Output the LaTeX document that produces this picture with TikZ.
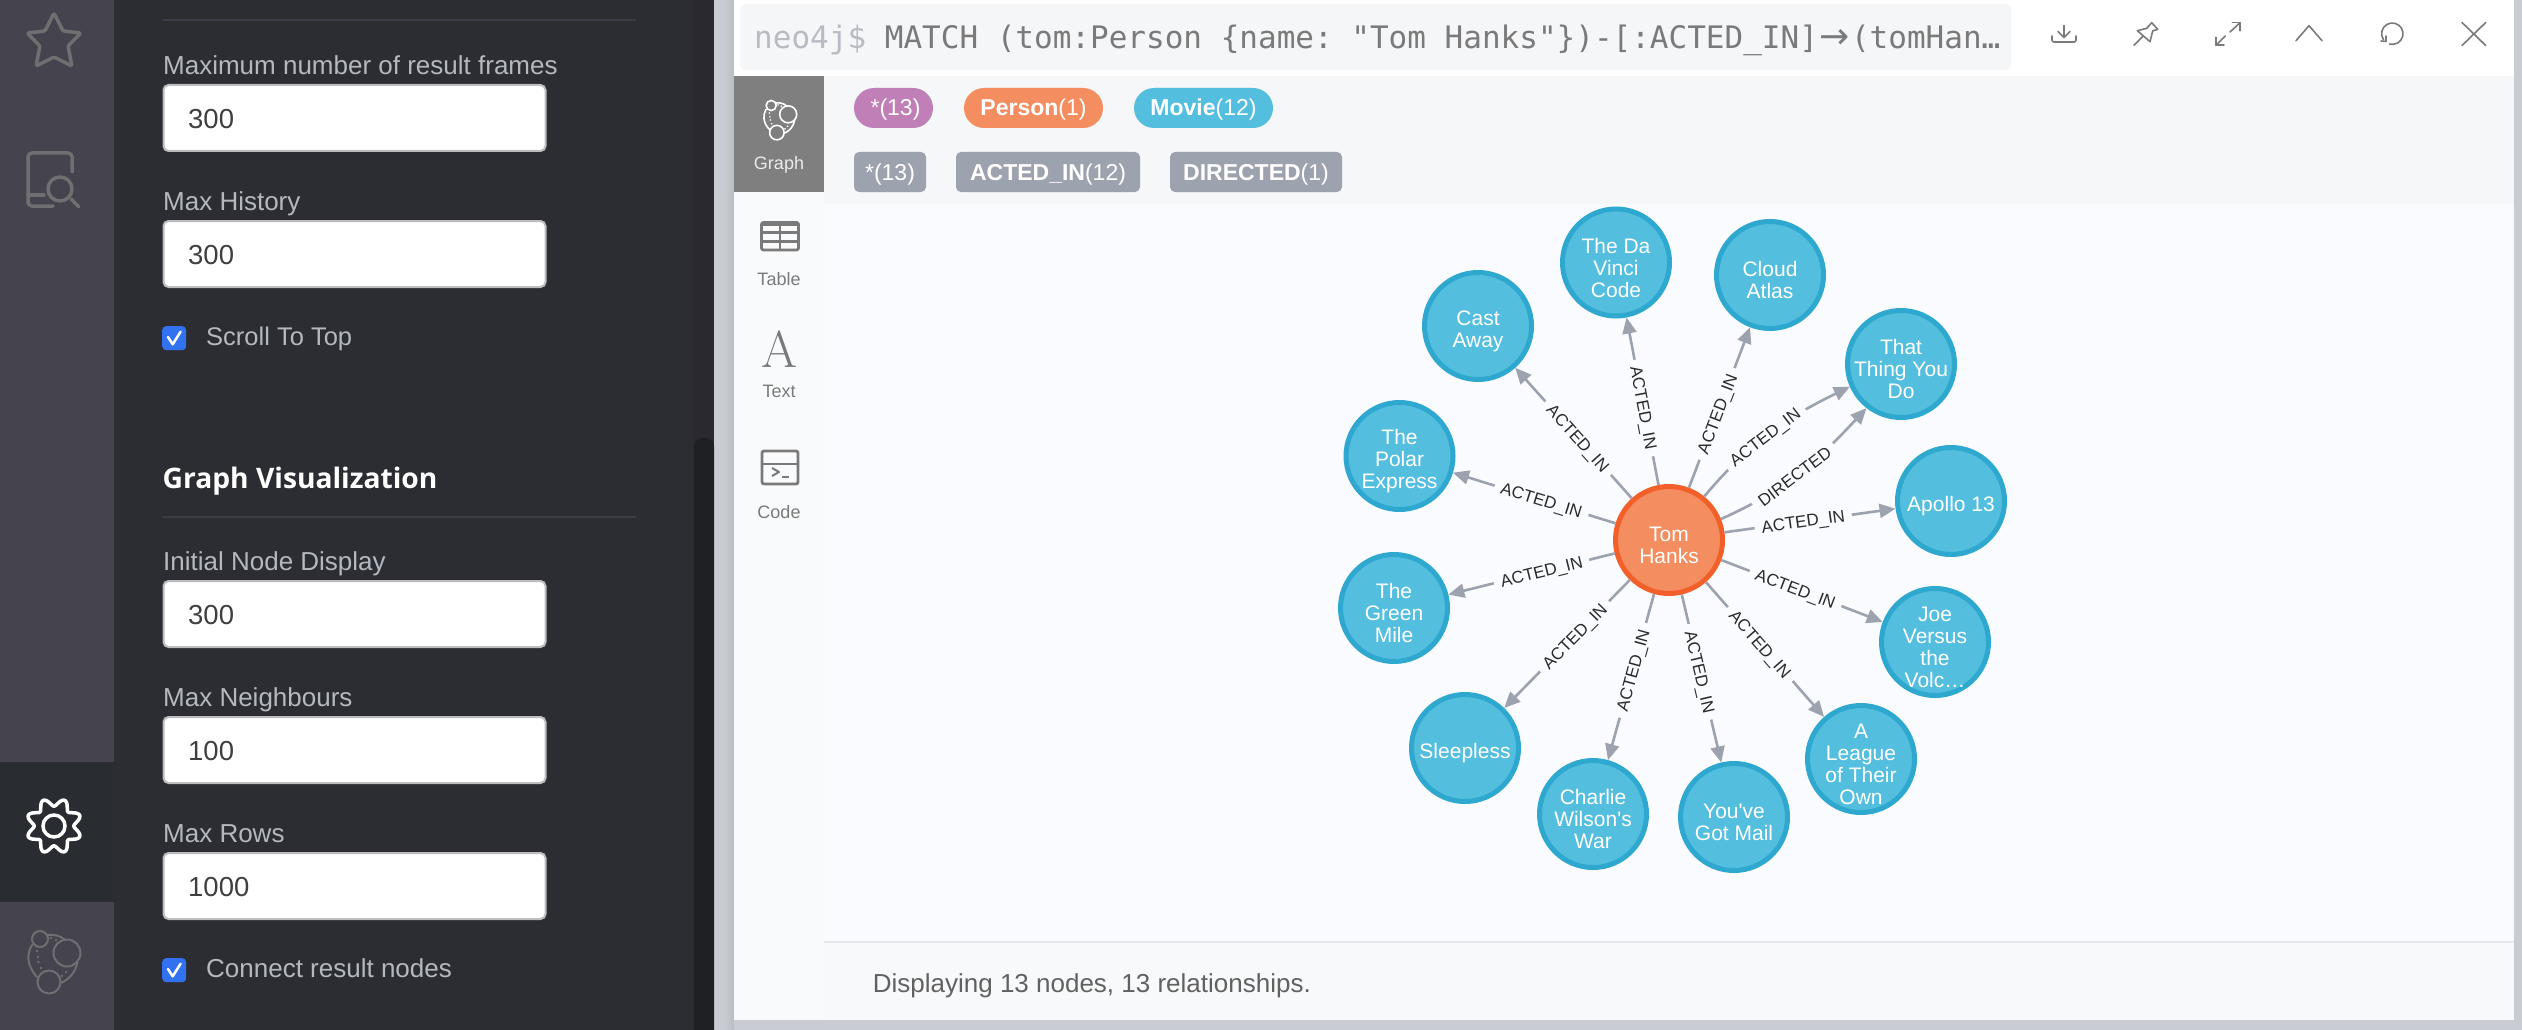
\documentclass[tikz,border=0pt]{standalone}
\usepackage{fontspec}
\setmainfont{Liberation Sans}
\setmonofont{DejaVu Sans Mono}
\newfontfamily\opensans{Open Sans}
\newfontfamily\arrowfont{DejaVu Sans}
\usetikzlibrary{arrows.meta}
\definecolor{sidebarbg}{HTML}{45434E}
\definecolor{panelbg}{HTML}{2C2D33}
\definecolor{activetab}{HTML}{292C31}
\definecolor{thumb}{HTML}{1F2024}
\definecolor{sepline}{HTML}{3A3B46}
\definecolor{stripbg}{HTML}{C9CCD2}
\definecolor{stripdark}{HTML}{B9BDC3}
\definecolor{canvasbg}{HTML}{F9FBFE}
\definecolor{legendbg}{HTML}{F6F7F9}
\definecolor{colbg}{HTML}{F9FAFB}
\definecolor{footbg}{HTML}{F8F9FA}
\definecolor{footline}{HTML}{E6E8EE}
\definecolor{inputbg}{HTML}{F5F6F8}
\definecolor{tabgray}{HTML}{7F7F7F}
\definecolor{iconside}{HTML}{6F6F71}
\definecolor{icongray}{HTML}{7A7A7A}
\definecolor{labeltxt}{HTML}{B4B8C0}
\definecolor{cmdgray}{HTML}{7A7A7A}
\definecolor{promptgray}{HTML}{B8BCC2}
\definecolor{boxborder}{HTML}{BDBDBD}
\definecolor{valtxt}{HTML}{3F3F3F}
\definecolor{checkblue}{HTML}{3272F0}
\definecolor{pillpink}{HTML}{C07FB7}
\definecolor{orangefill}{HTML}{F48D60}
\definecolor{orangeline}{HTML}{F25F29}
\definecolor{bluefill}{HTML}{54BEDF}
\definecolor{blueline}{HTML}{2FA8D0}
\definecolor{relgray}{HTML}{9CA2AE}
\definecolor{edgetxt}{HTML}{2B2B2B}
\newcommand{\fsz}[1]{\fontsize{#1}{#1}\selectfont}
\newcommand{\gnode}[5]{%
  \node[#1] (#2) at (#3,#4) {};
  \node[nodetext] (#2txt) at ([yshift=-5.3pt]#2.center) {#5};}
\newcommand{\neologo}[5]{%
\begin{scope}[shift={(#1,#2)},scale=#3,draw=#4,line width=#5,line cap=round]
\draw (-14,-23) circle[radius=8];
\draw (13,-9) circle[radius=13.5];
\draw (-5,20) circle[radius=11.5];
\draw (-22,-17) .. controls (-27,-9) and (-28,3) .. (-17,15);
\draw (-6.5,-27) .. controls (0,-28) and (7,-26) .. (11,-22);
\draw (23.3,0) .. controls (22,10) and (15,17) .. (7.7,20.7);
\foreach \dx/\dy in {-3/-24,2/-22,-17/-11,-16/-5,-15.5/0,-13/6,12/10,8/14}
  \fill[#4] (\dx,\dy) circle[radius=1.4];
\end{scope}}
\tikzset{
  sidetxt/.style={anchor=base west,inner sep=0pt,text=labeltxt,font=\fsz{26}},
  valtext/.style={anchor=base west,inner sep=0pt,text=valtxt,font=\fsz{27.5}},
  inbox/.style={anchor=north west,draw=boxborder,line width=2pt,fill=white,rounded corners=5pt,minimum width=382pt,minimum height=66pt,inner sep=0pt},
  chkbox/.style={anchor=north west,fill=checkblue,rounded corners=4pt,minimum width=24pt,minimum height=24pt,inner sep=0pt},
  checkmark/.style={draw=white,line width=2.5pt,line cap=round,line join=round},
  sepstyle/.style={draw=sepline,line width=2pt},
  sideicon/.style={draw=iconside,line width=3.5pt,line cap=round,line join=round},
  topicon/.style={draw=icongray,line width=1.6pt,line cap=round,line join=round},
  tabicon/.style={draw=icongray,line width=2.8pt,line join=round},
  tabtxt/.style={anchor=base,inner sep=0pt,font=\fsz{18},text=icongray},
  pilltxt/.style={inner sep=0pt,text=white,font=\fsz{23},minimum height=40pt,text height=16pt,text depth=0pt},
  nodepill/.style={pilltxt,rounded corners=20pt},
  relpill/.style={pilltxt,rounded corners=5pt,fill=relgray},
  movie/.style={circle,draw=blueline,fill=bluefill,line width=5pt,minimum size=107pt,inner sep=0pt},
  person/.style={movie,draw=orangeline,fill=orangefill},
  nodetext/.style={inner sep=0pt,text=white,align=center,font=\fontsize{21}{22}\selectfont},
  rel/.style={draw=relgray,line width=2.6pt,-{Triangle[length=16pt,width=14pt]}},
  rellabel/.style={sloped,fill=canvasbg,text=edgetxt,font=\fsz{17},inner xsep=7pt,inner ysep=3pt,pos=.46,text height=12pt,text depth=0pt},
}
\begin{document}
\begin{tikzpicture}[x=1pt,y=-1pt]
\useasboundingbox (0,0) rectangle (2522,1030);
% backgrounds
\fill[stripbg] (0,0) rectangle (2522,1030);
\shade[left color=stripbg,right color=stripdark] (724,0) rectangle (734,1030);
\fill[sidebarbg] (0,0) rectangle (114,1030);
\fill[panelbg] (114,0) rectangle (694,1030);
\fill[panelbg!92!black] (694,0) rectangle (714,1030);
\fill[thumb,rounded corners=8pt] (694,438) rectangle (714,1040);
\fill[activetab] (0,762) rectangle (114,902);
% result frame
\fill[white] (734,0) rectangle (2514,1020);
\fill[colbg] (734,76) rectangle (824,1020);
\fill[legendbg] (824,76) rectangle (2514,204);
\fill[canvasbg] (824,204) rectangle (2514,942);
\fill[footbg] (824,942) rectangle (2514,1020);
\draw[footline,line width=2pt] (824,942) -- (2514,942);
\fill[tabgray] (734,76) rectangle (824,192);
\fill[inputbg,rounded corners=5pt] (740,4) rectangle (2011,70);
% side icons
\draw[sideicon,rounded corners=1.5pt] (54,13) -- (63,31) -- (81,33) -- (68,46) -- (72,66) -- (54,57) -- (36,66) -- (40,46) -- (27,33) -- (45,31) -- cycle;
\draw[sideicon,rounded corners=4pt] (72,172) -- (72,153) -- (28,153) -- (28,206) -- (53,206);
\draw[sideicon] (28,195) -- (44,195);
\draw[sideicon] (60,189) circle[radius=12];
\draw[sideicon] (71,199) -- (79,207);
\draw[draw=white,line width=3.5pt,line join=round] plot[domain=0:360,samples=121,smooth] ({54+(23.8-4*cos(8*\x))*cos(\x)},{826+(23.8-4*cos(8*\x))*sin(\x)}) -- cycle;
\draw[white,line width=3.5pt] (54,826) circle[radius=11];
\neologo{54}{962}{1}{iconside}{2pt}
% settings panel
\draw[sepstyle] (162,20.5) -- (636,20.5);
\node[sidetxt] (lblFrames) at (163,75) {Maximum number of result frames};
\node[inbox] (boxFrames) at (162.5,84) {};
\node[valtext] (valFrames) at (188,128.3) {300};
\node[sidetxt] (lblHistory) at (163,210) {Max History};
\node[inbox] (boxHistory) at (162.5,220) {};
\node[valtext] (valHistory) at (188,264.3) {300};
\node[chkbox] (chkScroll) at (162,326) {};
\draw[checkmark] (168,337) -- (172.7,344.3) -- (180.6,331.7);
\node[sidetxt,font=\fsz{25.5}] (lblScroll) at (206,345.7) {Scroll To Top};
\node[anchor=base west,inner sep=0pt,text=white,font=\opensans\bfseries\fsz{28.2}] (hdrGraph) at (162.5,488) {Graph Visualization};
\draw[sepstyle] (162,516.7) -- (636,516.7);
\node[sidetxt] (lblInitial) at (163,570) {Initial Node Display};
\node[inbox] (boxInitial) at (162.5,580) {};
\node[valtext] (valInitial) at (188,624.3) {300};
\node[sidetxt] (lblNeigh) at (163,706) {Max Neighbours};
\node[inbox] (boxNeigh) at (162.5,716) {};
\node[valtext] (valNeigh) at (188,760.3) {100};
\node[sidetxt] (lblRows) at (163,842) {Max Rows};
\node[inbox] (boxRows) at (162.5,852) {};
\node[valtext] (valRows) at (188,896.3) {1000};
\node[chkbox] (chkConnect) at (162,958) {};
\draw[checkmark] (168,969) -- (172.7,976.3) -- (180.6,963.7);
\node[sidetxt] (lblConnect) at (206,977.7) {Connect result nodes};
% command line
\node[anchor=base west,inner sep=0pt,font=\ttfamily\fsz{31},text=cmdgray] (cmd) at (754,48.3) {\textcolor{promptgray}{neo4j\$} MATCH (tom:Person \{name: "Tom Hanks"\})-[:ACTED\_IN]\makebox[33pt][c]{\arrowfont\fsz{36}→}(tomHan…};
% toolbar icons
\draw[topicon] (2064,25.5) -- (2064,37.5);
\draw[topicon] (2058,31.5) -- (2064,37.5) -- (2070,31.5);
\draw[topicon,rounded corners=2pt] (2052,36) -- (2052,42) -- (2076,42) -- (2076,36);
\draw[topicon] (2151.7,22.7) -- (2157.7,29.3) -- (2152.7,31) -- (2150,41.7) -- (2137.3,30.7) -- (2146.7,28.3) -- cycle;
\draw[topicon] (2134,45.3) -- (2143.3,36);
\draw[topicon] (2230,32) -- (2240,22.7);
\draw[topicon] (2232.3,22.7) -- (2240,22.7) -- (2240,30.7);
\draw[topicon] (2225.3,36) -- (2216,45.3);
\draw[topicon] (2216,37.3) -- (2216,45.3) -- (2224,45.3);
\draw[topicon] (2296,40.7) -- (2309,25.7) -- (2322,40.7);
\draw[topicon] (2392.3,33.7) ++(105:10.7) arc[start angle=105,end angle=-215,radius=10.7];
\draw[topicon] (2381,41) -- (2386,41.5) -- (2386,36);
\draw[topicon] (2462,22.5) -- (2485.7,45.5);
\draw[topicon] (2485.7,22.5) -- (2462,45.5);
% tabs
\neologo{780}{120}{0.63}{white}{1.6pt}
\node[tabtxt,text=white!92!black] (tabGraph) at (779,170) {Graph};
\draw[tabicon,rounded corners=2pt] (761.5,222.5) rectangle (798.5,250);
\draw[tabicon] (780,222.5) -- (780,250);
\draw[tabicon,line width=3.5pt] (761.5,224) -- (798.5,224);
\draw[tabicon] (761.5,232.5) -- (798.5,232.5);
\draw[tabicon] (761.5,241.5) -- (798.5,241.5);
\node[tabtxt] (tabTable) at (779,285.3) {Table};
\node[anchor=base,inner sep=0pt,text=icongray,font=\fontfamily{lmr}\selectfont\fsz{52}] (glyphA) at (780,367.5) {A};
\node[tabtxt] (tabText) at (779,397.8) {Text};
\draw[tabicon,rounded corners=2pt] (762,451) rectangle (798,484);
\draw[tabicon] (762,464) -- (798,464);
\draw[tabicon,line width=2pt] (772,468) -- (779,472) -- (772,476);
\draw[tabicon,line width=2pt] (782,476.5) -- (789,476.5);
\node[tabtxt] (tabCode) at (779,518) {Code};
% legend
\node[nodepill,fill=pillpink,minimum width=79pt,text width=79pt,align=center] (lgAll) at (893.5,108) {\hspace*{4pt}*(13)};
\node[nodepill,fill=orangefill,minimum width=139pt] (lgPerson) at (1033.5,108) {\textbf{Person}(1)};
\node[nodepill,fill=bluefill,minimum width=139pt] (lgMovie) at (1203.5,108) {\textbf{Movie}(12)};
\node[relpill,minimum width=72pt] (lgRelAll) at (890,172) {*(13)};
\node[relpill,minimum width=184pt] (lgActed) at (1048,172) {\textbf{ACTED\_IN}(12)};
\node[relpill,minimum width=172pt] (lgDirected) at (1256,172) {\textbf{DIRECTED}(1)};
% graph nodes
\gnode{person}{tom}{1669}{540}{Tom\\Hanks}
\gnode{movie}{davinci}{1616}{262.5}{The Da\\Vinci\\Code}
\gnode{movie}{cloud}{1770}{275}{Cloud\\Atlas}
\gnode{movie}{cast}{1478}{326}{Cast\\Away}
\gnode{movie}{thing}{1901}{364}{That\\Thing You\\Do}
\gnode{movie}{polar}{1399.5}{456}{The\\Polar\\Express}
\gnode{movie}{apollo}{1951}{501}{Apollo 13}
\gnode{movie}{green}{1394}{608}{The\\Green\\Mile}
\gnode{movie}{joe}{1935}{642}{Joe\\Versus\\the\\Volc\ldots}
\gnode{movie}{sleepless}{1465}{748}{Sleepless}
\gnode{movie}{league}{1861}{759}{A\\League\\of Their\\Own}
\gnode{movie}{charlie}{1593}{814}{Charlie\\Wilson\textquotesingle s\\War}
\gnode{movie}{youve}{1734}{817}{You\textquotesingle ve\\Got Mail}
% relationships
\draw[rel] (tom) -- node[rellabel] (eDavinci) {ACTED\_IN} (davinci);
\draw[rel] (tom) -- node[rellabel] (eCloud) {ACTED\_IN} (cloud);
\draw[rel] (tom) -- node[rellabel] (eCast) {ACTED\_IN} (cast);
\draw[rel] (tom) -- node[rellabel,pos=.455] (ePolar) {ACTED\_IN} (polar);
\draw[rel] (tom) -- node[rellabel] (eApollo) {ACTED\_IN} (apollo);
\draw[rel] (tom) -- node[rellabel,pos=.44] (eGreen) {ACTED\_IN} (green);
\draw[rel] (tom) -- node[rellabel] (eJoe) {ACTED\_IN} (joe);
\draw[rel] (tom) -- node[rellabel,pos=.44] (eSleep) {ACTED\_IN} (sleepless);
\draw[rel] (tom) -- node[rellabel] (eLeague) {ACTED\_IN} (league);
\draw[rel] (tom) -- node[rellabel] (eCharlie) {ACTED\_IN} (charlie);
\draw[rel] (tom) -- node[rellabel] (eYouve) {ACTED\_IN} (youve);
\draw[rel] (tom.51) to[out=50,in=206] node[rellabel] (eThing) {ACTED\_IN} (thing.204);
\draw[rel] (tom.22) to[out=24,in=227] node[rellabel] (eDirected) {DIRECTED} (thing.232);
% footer
\node[anchor=base west,inner sep=0pt,text=black!62,font=\fsz{26}] (status) at (872.7,992) {Displaying 13 nodes, 13 relationships.};
\end{tikzpicture}
\end{document}
